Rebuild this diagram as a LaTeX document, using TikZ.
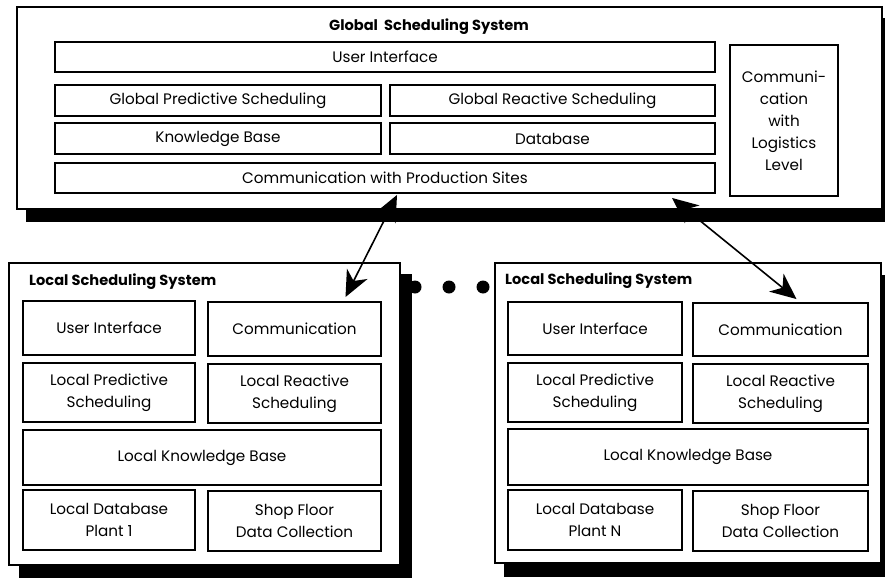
\documentclass[tikz,border=0pt]{standalone}
\usepackage{fontspec}
\setmainfont{Poppins}
\usetikzlibrary{arrows.meta,backgrounds}

\tikzset{
  frame/.style={draw, line width=1.8pt, fill=white, inner sep=0pt},
  box/.style={draw, line width=1.9pt, fill=white, inner sep=0pt, align=center,
    font=\fontsize{15.2}{22}\selectfont},
  heading/.style={font=\bfseries\fontsize{14.6}{17}\selectfont, inner sep=0pt},
  shade/.style={fill=black},
  link/.style={line width=1.6pt,
    {Stealth[length=26pt,width=23pt,inset=8pt]}-{Stealth[length=26pt,width=23pt,inset=8pt]}},
  dot/.style={circle, fill=black, inner sep=0pt, minimum size=13pt}
}

% rectangle node given by its corners: [options]{name}{x1}{y1}{x2}{y2}{text}
\newcommand\rbox[7][]{%
  \pgfmathsetmacro\rbcx{(#3+#5)/2}\pgfmathsetmacro\rbcy{(#4+#6)/2}%
  \pgfmathsetmacro\rbw{#5-#3}\pgfmathsetmacro\rbh{#6-#4}%
  \node[box,#1,minimum width=\rbw pt,minimum height=\rbh pt] (#2) at (\rbcx,\rbcy) {#7};}

% black offset shadow behind a named frame
\newcommand\offshadow[3]{%
  \begin{scope}[on background layer]
    \fill[shade] ([shift={(#2pt,-#3pt)}]#1.north west) rectangle ([shift={(#2pt,-#3pt)}]#1.south east);
  \end{scope}}

\begin{document}
\begin{tikzpicture}[x=1pt,y=-1pt]
\useasboundingbox (0,0) rectangle (885,578);

% ---------------- global level ----------------
\rbox[frame]{global}{17}{7}{882}{209}{}
\offshadow{global}{10}{12}
\node[heading] (gtitle) at (429,27) {Global\ \ Scheduling System};

\rbox{gui}{55}{42}{715}{72}{User Interface}
\rbox{gps}{55}{85}{381}{116}{Global Predictive Scheduling}
\rbox{grs}{390}{85}{715}{116}{Global Reactive Scheduling}
\rbox{gkb}{55}{123}{381}{154}{Knowledge Base}
\rbox{gdb}{390}{123}{715}{154}{Database}
\rbox{gcp}{55}{163}{715}{193}{Communication with Production Sites}
\rbox{gcl}{730}{45}{838}{196}{Communi-\\cation\\with\\Logistics\\Level}

% ---------------- local level, plant 1 ----------------
\rbox[frame]{loc1}{9}{263}{400}{565}{}
\offshadow{loc1}{11}{12}
\node[heading, anchor=west] (l1title) at (29,282) {Local Scheduling System};

\rbox{l1ui}{23}{301}{195}{355}{User Interface}
\rbox{l1com}{208}{302}{381}{356}{Communication}
\rbox{l1lps}{23}{363}{195}{422}{Local Predictive\\Scheduling}
\rbox{l1lrs}{208}{364}{381}{423}{Local Reactive\\Scheduling}
\rbox{l1kb}{23}{430}{381}{485}{Local Knowledge Base}
\rbox{l1db}{23}{490}{195}{550}{Local Database\\Plant 1}
\rbox{l1sf}{208}{491}{381}{551}{Shop Floor\\Data Collection}

% ---------------- local level, plant N ----------------
\rbox[frame]{locn}{495}{263}{881}{563}{}
\offshadow{locn}{10}{13}
\node[heading, anchor=west] (lntitle) at (505,281) {Local Scheduling System};

\rbox{lnui}{508}{302}{682}{355}{User Interface}
\rbox{lncom}{693}{303}{868}{356}{Communication}
\rbox{lnlps}{508}{363}{682}{422}{Local Predictive\\Scheduling}
\rbox{lnlrs}{693}{364}{868}{423}{Local Reactive\\Scheduling}
\rbox{lnkb}{508}{429}{868}{485}{Local Knowledge Base}
\rbox{lndb}{508}{490}{682}{550}{Local Database\\Plant N}
\rbox{lnsf}{693}{491}{868}{551}{Shop Floor\\Data Collection}

% ---------------- links between levels ----------------
\draw[link] ([xshift=12pt,yshift=-1pt]gcp.south) -- ([xshift=51pt,yshift=4pt]l1com.north);
\draw[link] ([xshift=287pt,yshift=-4pt]gcp.south) -- ([xshift=16pt,yshift=3pt]lncom.north);

% ---------------- ellipsis between plants ----------------
\node[dot] (d1) at (415,287) {};
\node[dot] (d2) at (449,287) {};
\node[dot] (d3) at (483,287) {};
\end{tikzpicture}
\end{document}
